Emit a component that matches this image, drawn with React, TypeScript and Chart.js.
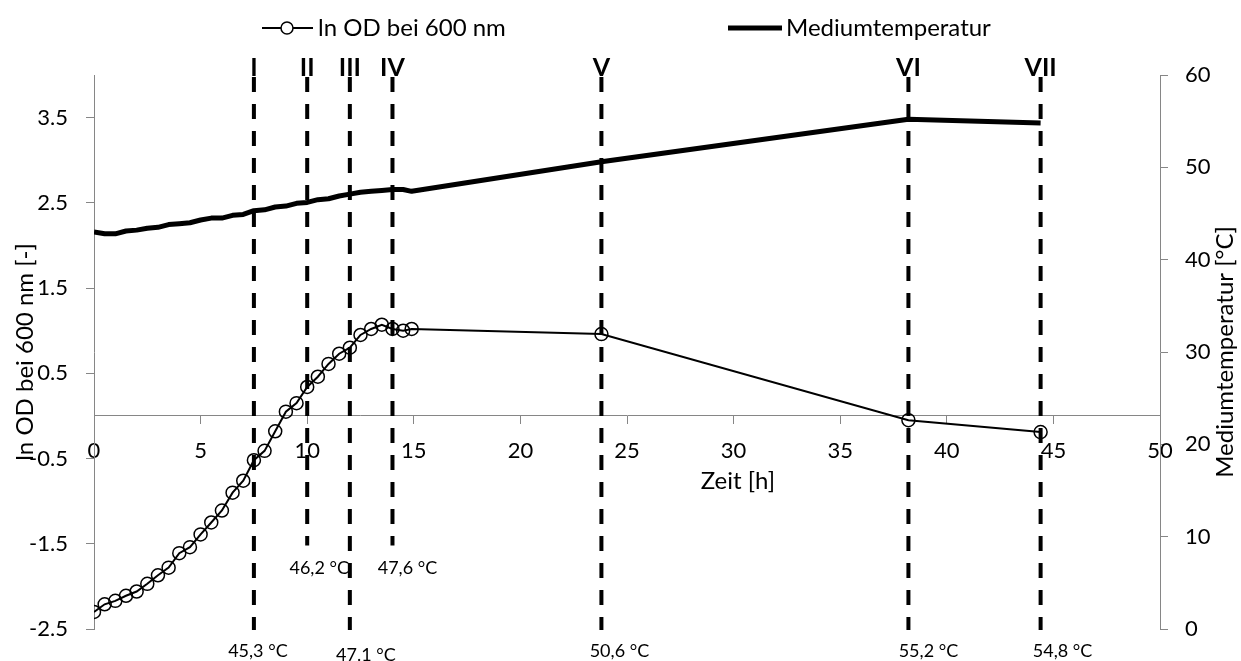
import React, { useEffect, useRef } from "react";
import { Chart, registerables } from "chart.js";

Chart.register(...registerables);

// ---- data ----
const odTime = [0, 0.5, 1, 1.5, 2, 2.5, 3, 3.5, 4, 4.5, 5, 5.5, 6, 6.5, 7, 7.5, 8, 8.5, 9, 9.5, 10, 10.5, 11, 11.5, 12, 12.5, 13, 13.5, 14, 14.5, 14.9, 23.8, 38.2, 44.4];
const odValues = [-2.30, -2.21, -2.17, -2.11, -2.06, -1.97, -1.87, -1.78, -1.61, -1.54, -1.39, -1.25, -1.11, -0.90, -0.76, -0.52, -0.41, -0.18, 0.05, 0.15, 0.34, 0.46, 0.61, 0.73, 0.80, 0.95, 1.02, 1.07, 1.02, 1.00, 1.02, 0.96, -0.05, -0.19];
const tempTime = [0, 0.5, 1, 1.5, 2, 2.5, 3, 3.5, 4, 4.5, 5, 5.5, 6, 6.5, 7, 7.5, 8, 8.5, 9, 9.5, 10, 10.5, 11, 11.5, 12, 12.5, 13, 13.5, 14, 14.5, 14.9, 23.8, 38.2, 44.4];
const tempValues = [43.0, 42.8, 42.8, 43.1, 43.2, 43.4, 43.5, 43.8, 43.9, 44.0, 44.3, 44.5, 44.5, 44.8, 44.9, 45.3, 45.4, 45.7, 45.8, 46.1, 46.2, 46.5, 46.6, 46.9, 47.1, 47.3, 47.4, 47.5, 47.6, 47.6, 47.4, 50.6, 55.2, 54.8];

const phaseLabels = ["I", "II", "III", "IV", "V", "VI", "VII"];
const phaseTimes = [7.5, 10, 12, 14, 23.8, 38.2, 44.4];
const phaseTempLabels = ["45,3 °C", "46,2 °C", "47.1 °C", "47,6 °C", "50,6 °C", "55,2 °C", "54,8 °C"];
const phaseShort = [false, true, false, true, false, false, false];

const leftTicks = [-2.5, -1.5, -0.5, 0.5, 1.5, 2.5, 3.5];

const seriesNames = ["ln OD bei 600 nm", "Mediumtemperatur"];
const xTitle = "Zeit [h]";
const yTitle = "ln OD bei 600 nm [-]";
const y1Title = "Mediumtemperatur [°C]";

// ---- styling ----
const FONT = "Lato";
const FS = 22;
const TS = 24;
const AXIS_COLOR = "#868686";
const labelDx = [4, 12, 16, 15, 18, 20, 22];

const overlayPlugin = {
  id: "overlay",
  afterDatasetsDraw(chart: any) {
    const ctx = chart.ctx;
    const xs = chart.scales.x;
    const ys = chart.scales.y;
    const area = chart.chartArea;
    ctx.save();
    // dashed phase lines
    phaseTimes.forEach((t, i) => {
      const px = xs.getPixelForValue(t);
      const yTop = area.top + 2;
      const yBot = phaseShort[i] ? ys.getPixelForValue(-1.52) : area.bottom + 1;
      ctx.beginPath();
      ctx.setLineDash([15, 12]);
      ctx.lineWidth = 4;
      ctx.strokeStyle = "#000";
      ctx.moveTo(px, yTop);
      ctx.lineTo(px, yBot);
      ctx.stroke();
    });
    ctx.setLineDash([]);
    // roman numerals
    ctx.fillStyle = "#000";
    ctx.font = `bold 25px ${FONT}`;
    ctx.textAlign = "center";
    ctx.textBaseline = "middle";
    phaseTimes.forEach((t, i) => {
      const px = xs.getPixelForValue(t);
      ctx.fillText(phaseLabels[i], px, area.top - 7);
    });
    // temperature labels
    ctx.font = `18px ${FONT}`;
    phaseTimes.forEach((t, i) => {
      const px = xs.getPixelForValue(t) + labelDx[i];
      const py = phaseShort[i] ? ys.getPixelForValue(-1.79) : area.bottom + 22;
      ctx.fillText(phaseTempLabels[i], px, py + (i === 2 ? 4 : 0));
    });
    ctx.restore();
  },
  afterDraw(chart: any) {
    const ctx = chart.ctx;
    const area = chart.chartArea;
    const xs = chart.scales.x;
    const ys = chart.scales.y;
    ctx.save();
    ctx.fillStyle = "#000";
    ctx.strokeStyle = "#000";
    ctx.font = `${TS}px ${FONT}`;
    ctx.textBaseline = "middle";
    // legend
    const ly = 28;
    ctx.lineWidth = 2;
    ctx.beginPath();
    ctx.moveTo(262, ly);
    ctx.lineTo(313, ly);
    ctx.stroke();
    ctx.beginPath();
    ctx.lineWidth = 1.5;
    ctx.fillStyle = "#fff";
    ctx.arc(287, ly, 6, 0, Math.PI * 2);
    ctx.fill();
    ctx.stroke();
    ctx.fillStyle = "#000";
    ctx.textAlign = "left";
    ctx.fillText(seriesNames[0], 318, ly);
    ctx.lineWidth = 5;
    ctx.beginPath();
    ctx.moveTo(728, ly);
    ctx.lineTo(782, ly);
    ctx.stroke();
    ctx.fillText(seriesNames[1], 786, ly);
    // x title
    ctx.textAlign = "center";
    ctx.fillText(xTitle, xs.getPixelForValue(30.2), ys.getPixelForValue(0) + 65);
    // y titles
    const cy = (area.top + area.bottom) / 2;
    ctx.save();
    ctx.translate(25, cy);
    ctx.rotate(-Math.PI / 2);
    ctx.fillText(yTitle, 0, 0);
    ctx.restore();
    ctx.save();
    ctx.translate(area.right + 65, cy);
    ctx.rotate(-Math.PI / 2);
    ctx.fillText(y1Title, 0, 0);
    ctx.restore();
    ctx.restore();
  },
};

export default function App() {
  const ref = useRef<HTMLCanvasElement>(null);
  useEffect(() => {
    const canvas = ref.current!;
    const chart = new Chart(canvas, {
      type: "scatter",
      data: {
        datasets: [
          {
            label: seriesNames[0],
            data: odTime.map((t, i) => ({ x: t, y: odValues[i] })),
            yAxisID: "y",
            showLine: true,
            borderColor: "#000",
            borderWidth: 2,
            pointStyle: "circle",
            pointRadius: 6.5,
            pointBorderWidth: 1.5,
            pointBorderColor: "#000",
            pointBackgroundColor: "rgba(0,0,0,0)",
          },
          {
            label: seriesNames[1],
            data: tempTime.map((t, i) => ({ x: t, y: tempValues[i] })),
            yAxisID: "y1",
            showLine: true,
            borderColor: "#000",
            borderWidth: 5,
            pointRadius: 0,
            borderJoinStyle: "round",
          },
        ],
      },
      options: {
        animation: false,
        responsive: false,
        layout: { padding: { top: 75, bottom: 32, left: 0, right: 0 } },
        plugins: { legend: { display: false }, tooltip: { enabled: false } },
        scales: {
          x: {
            type: "linear",
            min: 0,
            max: 50,
            position: { y: 0 } as any,
            ticks: { stepSize: 5, color: "#000", font: { family: FONT, size: FS }, padding: 14, maxRotation: 0, autoSkip: false },
            grid: { drawOnChartArea: false, drawTicks: true, tickLength: 8, color: AXIS_COLOR },
            border: { color: AXIS_COLOR, width: 1 },
          },
          y: {
            type: "linear",
            position: "left",
            min: -2.5,
            max: 4,
            afterBuildTicks: (s: any) => {
              s.ticks = leftTicks.map((v) => ({ value: v }));
            },
            afterFit: (s: any) => {
              s.width = 94;
            },
            ticks: { color: "#000", font: { family: FONT, size: FS }, padding: 18, callback: (v: any) => Number(v).toFixed(1) },
            grid: { drawOnChartArea: false, drawTicks: true, tickLength: 8, color: AXIS_COLOR },
            border: { color: AXIS_COLOR, width: 1 },
          },
          y1: {
            type: "linear",
            position: "right",
            min: 0,
            max: 60,
            afterFit: (s: any) => {
              s.width = 81;
            },
            ticks: { stepSize: 10, color: "#000", font: { family: FONT, size: FS }, padding: 17 },
            grid: { drawOnChartArea: false, drawTicks: true, tickLength: 8, color: AXIS_COLOR },
            border: { color: AXIS_COLOR, width: 1 },
          },
        },
      },
      plugins: [overlayPlugin],
    });
    return () => chart.destroy();
  }, []);
  return (
    <div style={{ position: "absolute", left: 0, top: 0, width: 1241, height: 661, background: "#fff" }}>
      <canvas ref={ref} width={1241} height={661} />
    </div>
  );
}
